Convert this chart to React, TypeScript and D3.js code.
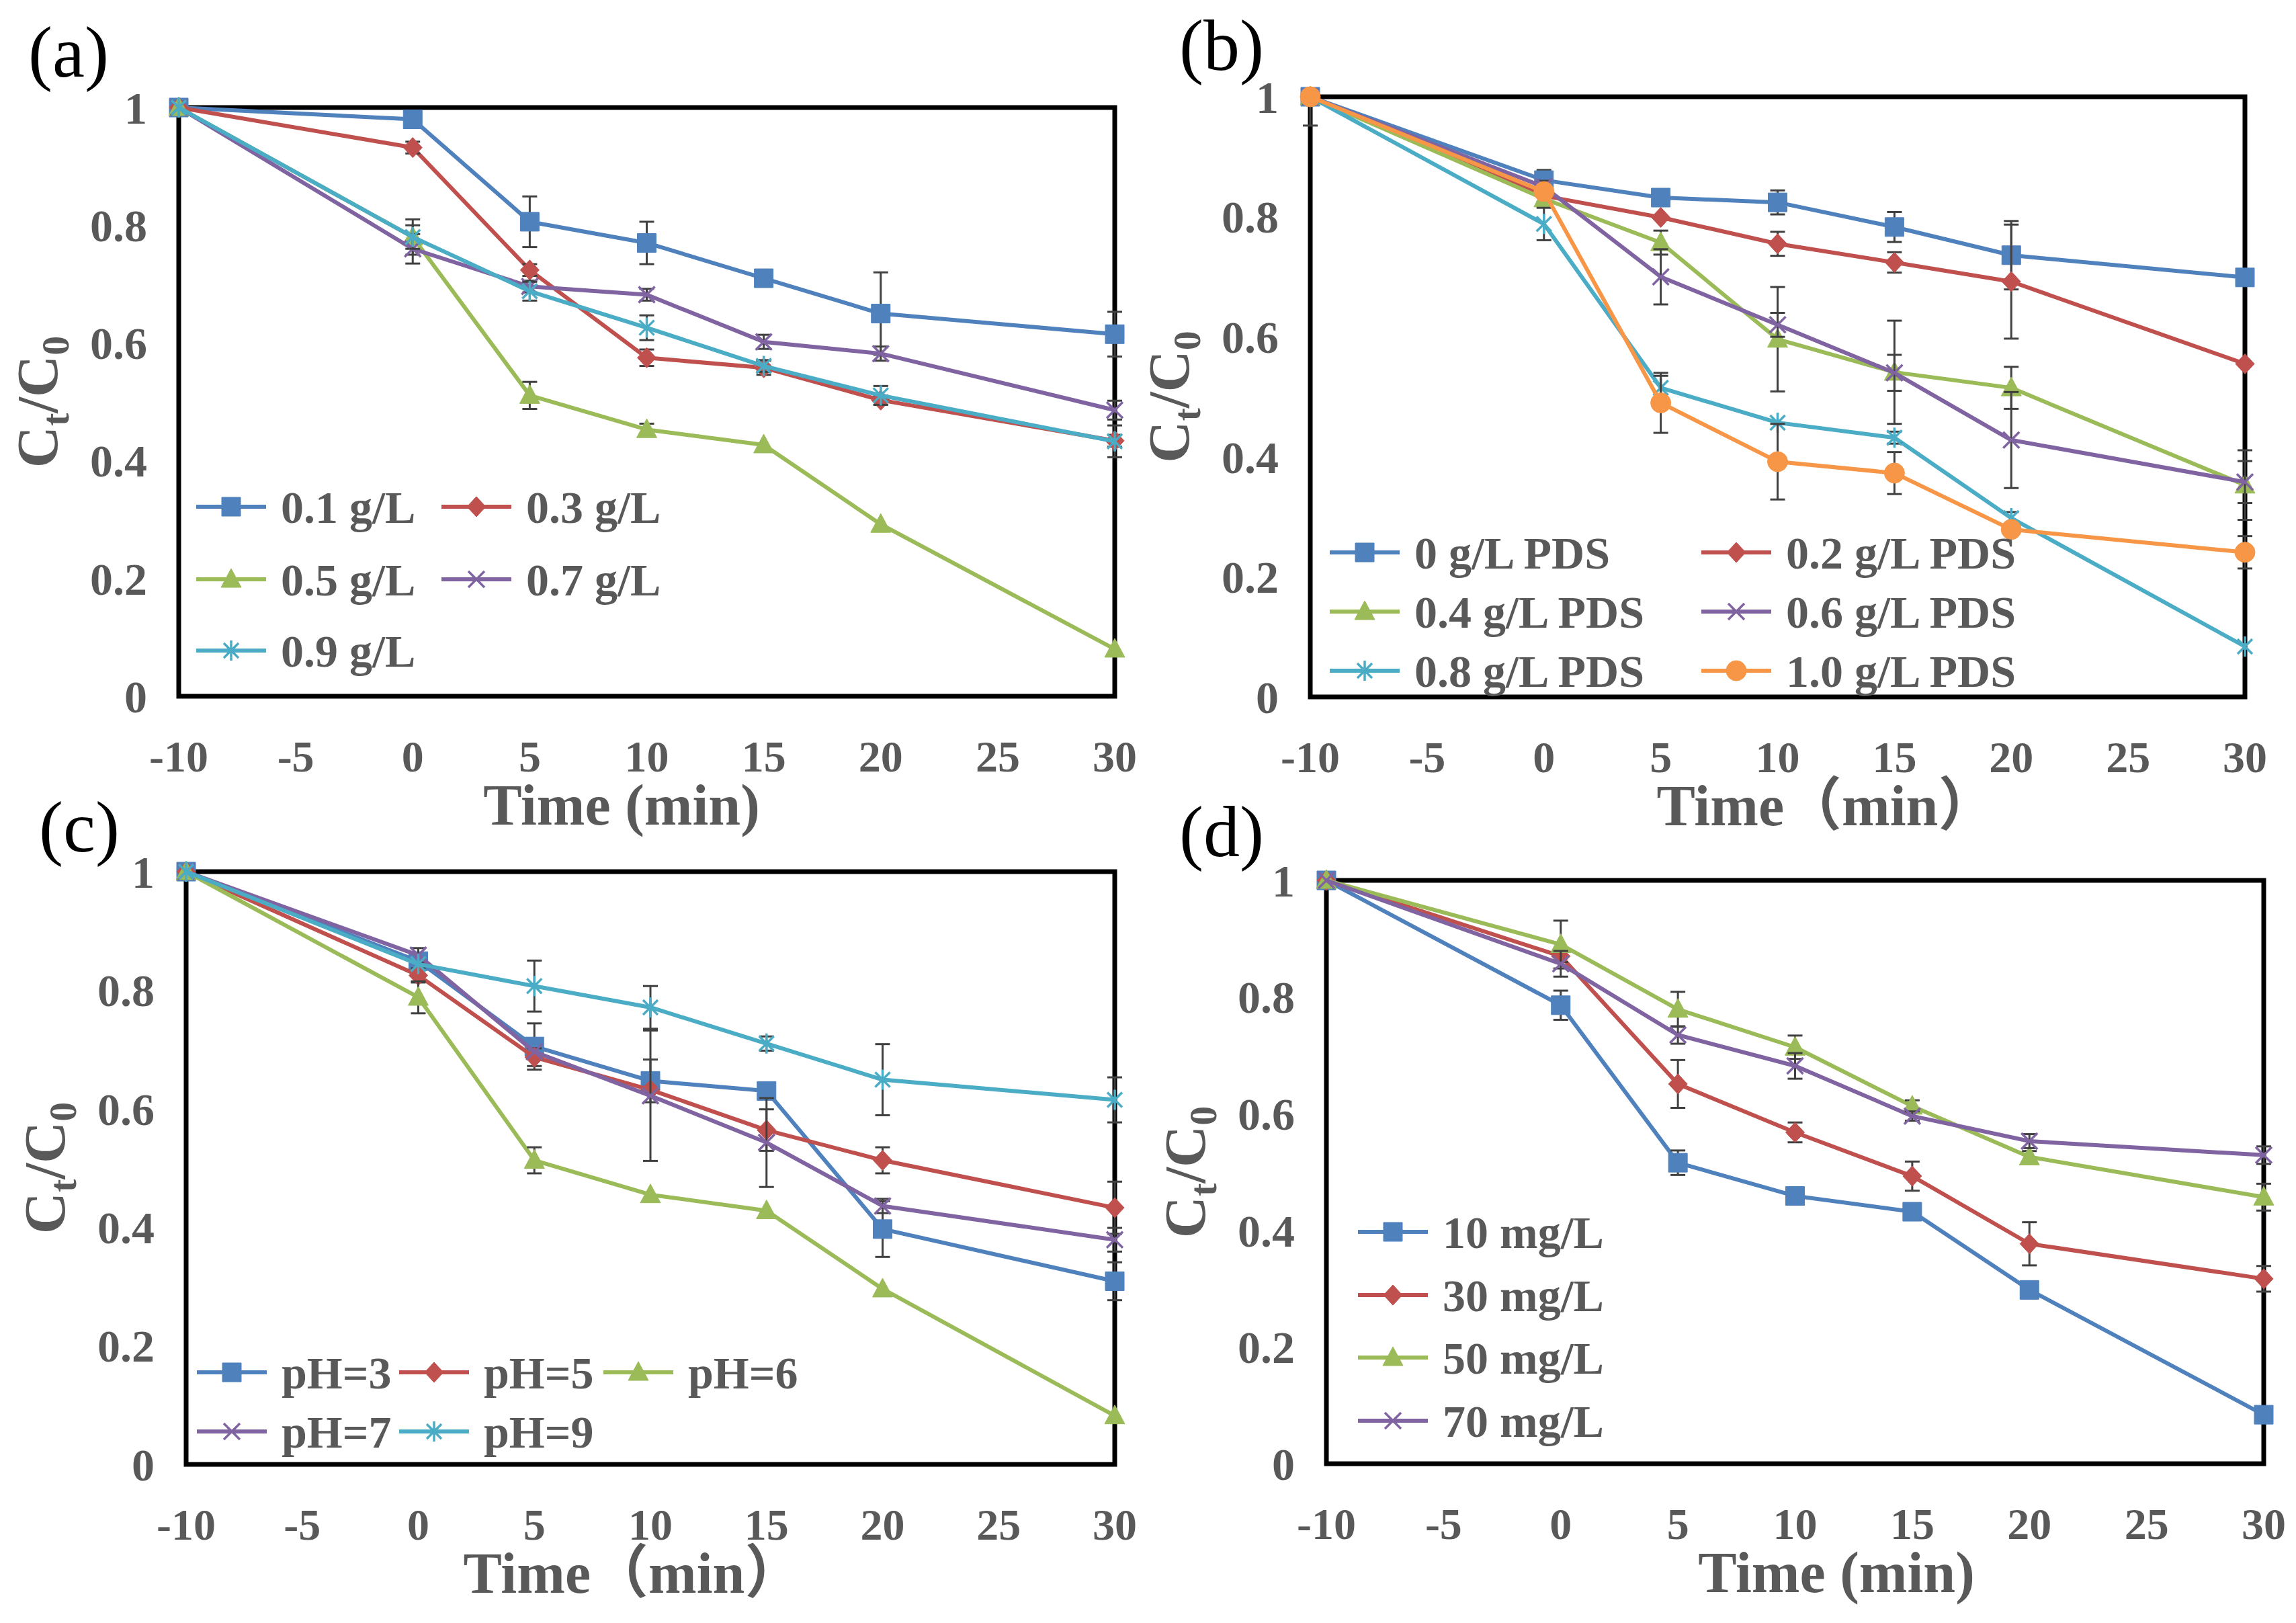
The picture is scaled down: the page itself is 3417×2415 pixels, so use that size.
import { useEffect, useRef } from "react";
import * as d3 from "d3";

// sampling times (min); -10 is the dark adsorption stage
const times = [-10, 0, 5, 10, 15, 20, 30];
const xTicks = [-10, -5, 0, 5, 10, 15, 20, 25, 30];
const yTicks = [0, 0.2, 0.4, 0.6, 0.8, 1];
const yTickLabels = ["0", "0.2", "0.4", "0.6", "0.8", "1"];

// (a) catalyst dosage
const dosageNames = ["0.1 g/L", "0.3 g/L", "0.5 g/L", "0.7 g/L", "0.9 g/L"];
const dosageValues = [
  [1, 0.98, 0.806, 0.77, 0.71, 0.65, 0.615],
  [1, 0.932, 0.724, 0.575, 0.558, 0.503, 0.434],
  [1, 0.78, 0.511, 0.453, 0.427, 0.292, 0.08],
  [1, 0.76, 0.696, 0.682, 0.602, 0.582, 0.486],
  [1, 0.78, 0.688, 0.626, 0.561, 0.511, 0.433],
];
const dosageErrors = [
  [0, 0, 0.043, 0.036, 0, 0.07, 0.038],
  [0, 0.01, 0.01, 0.014, 0.012, 0.008, 0.01],
  [0, 0.03, 0.023, 0.01, 0, 0, 0],
  [0, 0.025, 0.01, 0.01, 0.012, 0.012, 0.016],
  [0, 0.02, 0.016, 0.021, 0.01, 0.016, 0.027],
];

// (b) PDS dosage
const pdsNames = ["0 g/L PDS", "0.2 g/L PDS", "0.4 g/L PDS", "0.6 g/L PDS", "0.8 g/L PDS", "1.0 g/L PDS"];
const pdsValues = [
  [1, 0.861, 0.832, 0.824, 0.783, 0.736, 0.699],
  [1, 0.835, 0.799, 0.755, 0.724, 0.692, 0.555],
  [1, 0.83, 0.757, 0.596, 0.541, 0.515, 0.353],
  [1, 0.85, 0.7, 0.62, 0.54, 0.428, 0.358],
  [1, 0.788, 0.515, 0.457, 0.432, 0.298, 0.084],
  [1, 0.842, 0.49, 0.392, 0.373, 0.279, 0.241],
];
const pdsErrors = [
  [0.048, 0.017, 0, 0.02, 0.025, 0.057, 0],
  [0, 0.01, 0, 0.02, 0.017, 0.095, 0],
  [0, 0.01, 0.02, 0.087, 0.086, 0.035, 0.058],
  [0, 0.01, 0.046, 0.02, 0.03, 0.08, 0.035],
  [0, 0.027, 0.02, 0, 0.01, 0.01, 0],
  [0, 0, 0.05, 0.063, 0.035, 0, 0.027],
];

// (c) initial pH
const phNames = ["pH=3", "pH=5", "pH=6", "pH=7", "pH=9"];
const phValues = [
  [1, 0.849, 0.705, 0.647, 0.63, 0.397, 0.309],
  [1, 0.825, 0.687, 0.632, 0.564, 0.513, 0.433],
  [1, 0.788, 0.513, 0.455, 0.428, 0.296, 0.082],
  [1, 0.859, 0.696, 0.622, 0.543, 0.436, 0.379],
  [1, 0.844, 0.807, 0.771, 0.71, 0.649, 0.615],
];
const phErrors = [
  [0, 0.01, 0.039, 0.036, 0, 0.047, 0.032],
  [0, 0.012, 0.015, 0, 0.035, 0.022, 0.044],
  [0, 0.027, 0.022, 0, 0, 0, 0],
  [0, 0.012, 0, 0.11, 0.075, 0.012, 0.02],
  [0, 0, 0.043, 0.036, 0.012, 0.06, 0.038],
];

// (d) initial concentration
const concNames = ["10 mg/L", "30 mg/L", "50 mg/L", "70 mg/L"];
const concValues = [
  [1, 0.786, 0.516, 0.459, 0.432, 0.298, 0.084],
  [1, 0.87, 0.651, 0.568, 0.493, 0.377, 0.317],
  [1, 0.89, 0.779, 0.714, 0.613, 0.526, 0.457],
  [1, 0.857, 0.735, 0.682, 0.596, 0.553, 0.529],
];
const concErrors = [
  [0, 0.025, 0.021, 0, 0, 0, 0],
  [0, 0.01, 0.041, 0.017, 0.025, 0.037, 0.022],
  [0, 0.041, 0.03, 0.02, 0.01, 0.01, 0.023],
  [0, 0.022, 0.015, 0.022, 0.008, 0.012, 0.015],
];

const colors = ["#4F81BD", "#C0504D", "#9BBB59", "#8064A2", "#4BACC6", "#F79646"];
const markers = ["square", "diamond", "triangle", "x", "star", "circle"];

const W = 3417;
const H = 2415;
const FONT = "'Liberation Serif', 'Times New Roman', 'Noto Sans CJK SC', serif";
const TEXT = "#595959";

type Panel = {
  tag: string;
  tagX: number;
  tagY: number;
  left: number;
  right: number;
  top: number;
  bottom: number;
  xTitle: string;
  xTitleX: number;
  names: string[];
  values: number[][];
  errors: number[][];
  legendCols: number[];
  legendRows: number[];
  legendPerRow: number;
};

const panels: Panel[] = [
  {
    tag: "(a)", tagX: 102, tagY: 114,
    left: 266, right: 1659, top: 160, bottom: 1036,
    xTitle: "Time (min)", xTitleX: 925,
    names: dosageNames, values: dosageValues, errors: dosageErrors,
    legendCols: [292, 657], legendRows: [754, 862, 968], legendPerRow: 2,
  },
  {
    tag: "(b)", tagX: 1818, tagY: 104,
    left: 1950, right: 3341, top: 144, bottom: 1037,
    xTitle: "Time（min）", xTitleX: 2718,
    names: pdsNames, values: pdsValues, errors: pdsErrors,
    legendCols: [1979, 2532], legendRows: [822, 910, 998], legendPerRow: 2,
  },
  {
    tag: "(c)", tagX: 118, tagY: 1267,
    left: 277, right: 1659, top: 1297, bottom: 2179,
    xTitle: "Time（min）", xTitleX: 942,
    names: phNames, values: phValues, errors: phErrors,
    legendCols: [293, 594, 898], legendRows: [2042, 2130], legendPerRow: 3,
  },
  {
    tag: "(d)", tagX: 1818, tagY: 1274,
    left: 1974, right: 3369, top: 1310, bottom: 2178,
    xTitle: "Time (min)", xTitleX: 2733,
    names: concNames, values: concValues, errors: concErrors,
    legendCols: [2021], legendRows: [1833, 1927, 2020, 2114], legendPerRow: 1,
  },
];

function markerPath(kind: string): string {
  switch (kind) {
    case "square":
      return "M-14,-14h28v28h-28Z";
    case "diamond":
      return "M0,-15L14,0L0,15L-14,0Z";
    case "triangle":
      return "M0,-16L15,12L-15,12Z";
    case "x":
      return "M-12,-12L12,12M-12,12L12,-12";
    case "star":
      return "M-11,-11L11,11M-11,11L11,-11M0,-15L0,15";
    default:
      return d3.symbol().type(d3.symbolCircle).size(Math.PI * 15 * 15)() || "";
  }
}

function drawMarker(g: any, kind: string, color: string, cx: number, cy: number) {
  const stroked = kind === "x" || kind === "star";
  g.append("path")
    .attr("d", markerPath(kind))
    .attr("transform", `translate(${cx},${cy})`)
    .attr("fill", stroked ? "none" : color)
    .attr("stroke", color)
    .attr("stroke-width", stroked ? 3.5 : 1);
}

function drawPanel(svg: any, p: Panel) {
  const x = d3.scaleLinear().domain([-10, 30]).range([p.left, p.right]);
  const y = d3.scaleLinear().domain([0, 1]).range([p.bottom, p.top]);
  const g = svg.append("g");

  // panel letter
  g.append("text")
    .attr("x", p.tagX)
    .attr("y", p.tagY)
    .attr("text-anchor", "middle")
    .attr("font-family", FONT)
    .attr("font-size", 108)
    .attr("fill", "#000")
    .text(p.tag);

  // plot frame
  g.append("rect")
    .attr("x", p.left)
    .attr("y", p.top)
    .attr("width", p.right - p.left)
    .attr("height", p.bottom - p.top)
    .attr("fill", "none")
    .attr("stroke", "#000")
    .attr("stroke-width", 7);

  // tick labels
  g.selectAll(".yt")
    .data(yTicks)
    .enter()
    .append("text")
    .attr("x", p.left - 47)
    .attr("y", (d: number) => y(d))
    .attr("dy", "0.35em")
    .attr("text-anchor", "end")
    .attr("font-family", FONT)
    .attr("font-weight", "bold")
    .attr("font-size", 68)
    .attr("fill", TEXT)
    .text((_: number, i: number) => yTickLabels[i]);

  g.selectAll(".xt")
    .data(xTicks)
    .enter()
    .append("text")
    .attr("x", (d: number) => x(d))
    .attr("y", p.bottom + 112)
    .attr("text-anchor", "middle")
    .attr("font-family", FONT)
    .attr("font-weight", "bold")
    .attr("font-size", 66)
    .attr("fill", TEXT)
    .text((d: number) => String(d));

  // axis titles
  g.append("text")
    .attr("x", p.xTitleX)
    .attr("y", p.bottom + 191)
    .attr("text-anchor", "middle")
    .attr("font-family", FONT)
    .attr("font-weight", "bold")
    .attr("font-size", 86)
    .attr("fill", TEXT)
    .text(p.xTitle);

  const yt = g.append("text")
    .attr("transform", `translate(${p.left - 181},${(p.top + p.bottom) / 2}) rotate(-90)`)
    .attr("text-anchor", "middle")
    .attr("font-family", FONT)
    .attr("font-weight", "bold")
    .attr("font-size", 86)
    .attr("fill", TEXT);
  yt.append("tspan").text("C");
  yt.append("tspan").attr("dy", 17).attr("font-size", 58).text("t");
  yt.append("tspan").attr("dy", -17).text("/C");
  yt.append("tspan").attr("dy", 17).attr("font-size", 58).text("0");

  // series: line, error bars, markers
  const line = d3
    .line<number>()
    .x((_, j) => x(times[j]))
    .y((d) => y(d));

  p.values.forEach((vals, i) => {
    const color = colors[i];
    g.append("path")
      .attr("d", line(vals))
      .attr("fill", "none")
      .attr("stroke", color)
      .attr("stroke-width", 6)
      .attr("stroke-linejoin", "round");

    vals.forEach((v, j) => {
      const e = p.errors[i][j];
      if (!e) return;
      const cx = x(times[j]);
      // bars are cut at the top of the plot area
      const hi = v + e;
      const yHi = y(Math.min(1, hi));
      const yLo = y(v - e);
      const eb = g.append("g").attr("stroke", "#404040").attr("stroke-width", 3);
      eb.append("line").attr("x1", cx).attr("x2", cx).attr("y1", yHi).attr("y2", yLo);
      if (hi <= 1) {
        eb.append("line").attr("x1", cx - 11).attr("x2", cx + 11).attr("y1", yHi).attr("y2", yHi);
      }
      eb.append("line").attr("x1", cx - 11).attr("x2", cx + 11).attr("y1", yLo).attr("y2", yLo);
    });

    vals.forEach((v, j) => drawMarker(g, markers[i], color, x(times[j]), y(v)));
  });

  // legend
  p.names.forEach((name, i) => {
    const lx = p.legendCols[i % p.legendPerRow];
    const ly = p.legendRows[Math.floor(i / p.legendPerRow)];
    g.append("line")
      .attr("x1", lx)
      .attr("x2", lx + 104)
      .attr("y1", ly)
      .attr("y2", ly)
      .attr("stroke", colors[i])
      .attr("stroke-width", 6);
    drawMarker(g, markers[i], colors[i], lx + 52, ly);
    g.append("text")
      .attr("x", lx + 126)
      .attr("y", ly)
      .attr("dy", "0.35em")
      .attr("font-family", FONT)
      .attr("font-weight", "bold")
      .attr("font-size", 68)
      .attr("fill", TEXT)
      .text(name);
  });
}

export default function App() {
  const svgRef = useRef<SVGSVGElement>(null);

  useEffect(() => {
    const svg = d3.select(svgRef.current);
    svg.selectAll("*").remove();
    svg.append("rect").attr("width", W).attr("height", H).attr("fill", "#fff");
    panels.forEach((p) => drawPanel(svg, p));
  }, []);

  return (
    <svg
      ref={svgRef}
      width={W}
      height={H}
      style={{ position: "absolute", left: 0, top: 0, display: "block" }}
    />
  );
}
